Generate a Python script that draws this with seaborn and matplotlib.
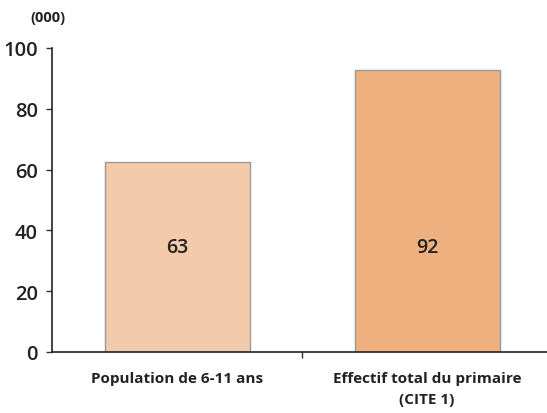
import matplotlib
matplotlib.use("Agg")
import matplotlib.pyplot as plt
import seaborn as sns
import pandas as pd

categories = ["Population de 6-11 ans", "Effectif total du primaire\n(CITE 1)"]
values = [62.5, 92.7]
labels = ["63", "92"]
colors = ["#F4CBAA", "#EFB07F"]
yticks = [0, 20, 40, 60, 80, 100]

sns.set_style("white")
plt.rcParams['font.family'] = ['Open Sans', 'DejaVu Sans']

df = pd.DataFrame({"cat": categories, "val": values})

W, H = 547, 414
fig = plt.figure(figsize=(W / 100, H / 100), dpi=100)
ax = fig.add_axes([52 / W, 1 - 353 / H, 500 / W, 304 / H])

sns.barplot(data=df, x="cat", y="val", hue="cat", palette=colors, legend=False,
            saturation=1, width=0.58, edgecolor="#999999", linewidth=1.0, ax=ax)

ax.set_xlim(-0.5, 1.5)
ax.set_ylim(0, 100)
ax.set_yticks(yticks)
ax.set_yticklabels([str(t) for t in yticks], fontsize=14.5, color="#222222", fontweight="semibold")
ax.set_xticks([0.5], minor=True)
ax.set_xticks([0, 1])
ax.set_xticklabels(categories, fontsize=11, fontweight="bold", color="#222222",
                   linespacing=1.6)
ax.tick_params(axis="x", which="major", length=0, bottom=False, pad=14)
ax.tick_params(axis="x", which="minor", bottom=True, length=4, width=1, color="#333333", direction="out")
ax.tick_params(axis="y", left=True, length=4, width=1, color="#333333", direction="out", pad=6)
ax.set_xlabel("")
ax.set_ylabel("")

for s in ["top", "right"]:
    ax.spines[s].set_visible(False)
for s in ["left", "bottom"]:
    ax.spines[s].set_color("#222222")
    ax.spines[s].set_linewidth(1.2)

for i, lab in enumerate(labels):
    ax.text(i, 34.5, lab, ha="center", va="center", fontsize=14,
            fontweight="semibold", color="#222222")

fig.text(48 / W, 1 - 18 / H, "(000)", ha="center", va="center", fontsize=10.5,
         fontweight="bold", color="#222222")

fig.savefig("out.png", dpi=100)
